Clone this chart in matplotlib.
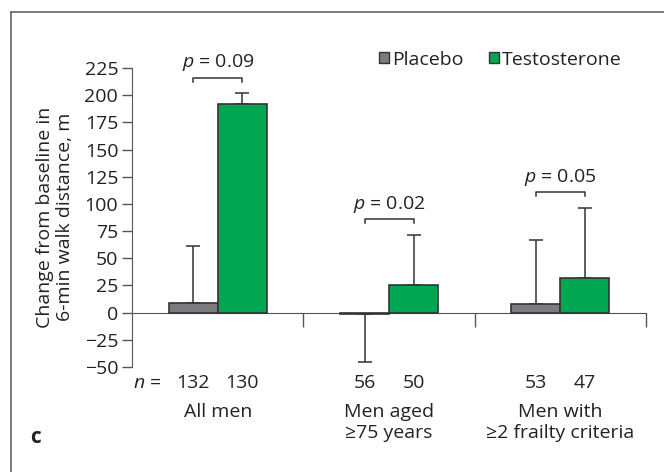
import numpy as np
import matplotlib
matplotlib.use("Agg")
import matplotlib.pyplot as plt
from matplotlib.patches import Patch
from matplotlib.lines import Line2D

plt.rcParams["font.family"] = ["Open Sans", "DejaVu Sans"]
plt.rcParams["font.size"] = 14
plt.rcParams["mathtext.fontset"] = "custom"
plt.rcParams["mathtext.rm"] = "Open Sans"
plt.rcParams["mathtext.it"] = "Open Sans:italic"

# data
groups = ["All men", "Men aged\n\u226575 years", "Men with\n\u22652 frailty criteria"]
placebo = [9, -1, 8]
placebo_err = [52, 44, 59]
testo = [192, 25, 32]
testo_err = [10, 46, 64]
n_placebo = [132, 56, 53]
n_testo = [130, 50, 47]
p_values = ["0.09", "0.02", "0.05"]
bracket_y = [216, 86, 111]

GRAY = "#7b7b80"
GREEN = "#00a651"
EDGE = "#333333"
AXC = "#555555"
TXT = "#222222"

fig = plt.figure(figsize=(6.64, 4.72), dpi=100)
ax = fig.add_axes([0.199, 0.2225, 0.774, 0.6335])

x = np.arange(len(groups))
w = 0.286
xp = x - w / 2
xt = x + w / 2

ax.bar(xp, placebo, w, color=GRAY, edgecolor=EDGE, linewidth=1.2, zorder=3)
ax.bar(xt, testo, w, color=GREEN, edgecolor=EDGE, linewidth=1.2, zorder=3)

# one-sided error bars (away from zero)
for xs, vals, errs in [(xp, placebo, placebo_err), (xt, testo, testo_err)]:
    for xi, v, e in zip(xs, vals, errs):
        yerr = [[0], [e]] if v >= 0 else [[e], [0]]
        ax.errorbar(xi, v, yerr=yerr, fmt="none", ecolor=EDGE, elinewidth=1.1,
                    capsize=5, capthick=1.1, zorder=2)

# significance brackets
for i in range(len(groups)):
    yb = bracket_y[i]
    ax.plot([xp[i], xp[i], xt[i], xt[i]], [yb - 4, yb, yb, yb - 4],
            color=EDGE, lw=1.1, clip_on=False)
    ax.text(x[i], yb + 4, f"$p$ = {p_values[i]}", ha="center", va="bottom",
            color=TXT)

ax.set_xlim(-0.5, 2.5)
ax.set_ylim(-50, 225)
ticks = np.arange(-50, 226, 25)
ax.set_yticks(ticks)
ax.set_yticklabels([str(v).replace("-", "\u2212") for v in ticks])
ax.tick_params(axis="y", direction="out", length=7, width=1, color=AXC,
               labelcolor=TXT, pad=3)

ax.spines["right"].set_visible(False)
ax.spines["top"].set_visible(False)
ax.spines["left"].set_color(AXC)
ax.spines["bottom"].set_position(("data", 0))
ax.spines["bottom"].set_color(AXC)
ax.set_xticks([0.5, 1.5, 2.5])
ax.set_xticklabels([])
ax.tick_params(axis="x", direction="out", length=10, width=1, color=AXC)

# n row and group names under the axis
ax.text(-0.495, -64.5, "$n$ =", ha="left", va="center", color=TXT, clip_on=False)
for i in range(len(groups)):
    ax.text(xp[i], -64.5, str(n_placebo[i]), ha="center", va="center",
            color=TXT, clip_on=False)
    ax.text(xt[i], -64.5, str(n_testo[i]), ha="center", va="center",
            color=TXT, clip_on=False)
    ax.text(x[i], -83, groups[i], ha="center", va="top", color=TXT,
            linespacing=1.25, clip_on=False)

fig.text(0.083, 0.54, "Change from baseline in\n6-min walk distance, m",
         rotation=90, ha="center", va="center", color=TXT, linespacing=1.1)

handles = [Patch(facecolor=GRAY, edgecolor=EDGE, lw=1),
           Patch(facecolor=GREEN, edgecolor=EDGE, lw=1)]
fig.legend(handles, ["Placebo", "Testosterone"], ncol=2, frameon=False,
           loc="upper right", bbox_to_anchor=(0.962, 0.93),
           handlelength=0.5, handleheight=0.5, handletextpad=0.15,
           columnspacing=1.3, labelcolor=TXT)

fig.text(0.054, 0.074, "c", fontweight="bold", fontsize=15, ha="center",
         va="center", color=TXT)

# panel frame (top and left edges)
fig.add_artist(Line2D([0.0166, 1.0], [0.975, 0.975], color="#666666", lw=1.2))
fig.add_artist(Line2D([0.0166, 0.0166], [0.0, 0.975], color="#666666", lw=1.2))

fig.savefig("out.png", dpi=100)
